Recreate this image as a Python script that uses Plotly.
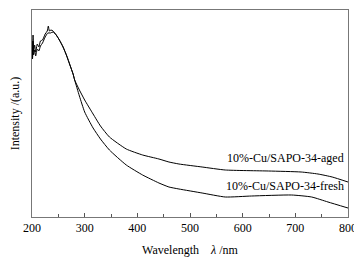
import plotly.graph_objects as go

wavelength_aged = [200, 201, 202, 203, 205, 207, 210, 213, 216, 220, 225, 229, 231, 233, 236, 240, 246, 252, 259, 266, 272, 278, 281, 290, 300, 316, 330, 347, 379, 410, 441, 460, 479, 523, 567, 649, 711, 743, 770, 800]
intensity_aged = [176, 160, 182, 166, 172, 165, 173, 170, 176, 177, 183, 186, 191, 186, 187, 186, 182, 177, 170, 161, 152, 143, 137, 127, 117, 103, 91, 80, 68, 62, 58, 55, 53, 50, 47, 46, 45, 43, 40, 35]

wavelength_fresh = [200, 201, 202, 203, 205, 207, 210, 213, 216, 220, 225, 230, 235, 240, 246, 252, 259, 266, 272, 278, 281, 290, 300, 316, 330, 347, 379, 410, 441, 460, 479, 523, 567, 617, 693, 731, 762, 800]
intensity_fresh = [170, 158, 176, 162, 167, 161, 168, 166, 171, 174, 180, 184, 184, 185, 182, 177, 170, 161, 152, 143, 137, 121, 105, 89, 78, 67, 52, 42, 34, 30, 28, 24, 20, 21, 22, 20, 15, 9]

label_aged = "10%-Cu/SAPO-34-aged"
label_fresh = "10%-Cu/SAPO-34-fresh"

FONT = "Liberation Serif, Times New Roman, serif"

fig = go.Figure()
fig.add_trace(go.Scatter(x=wavelength_aged, y=intensity_aged, mode="lines",
                         line=dict(color="black", width=1, shape="spline", smoothing=0.5), showlegend=False))
fig.add_trace(go.Scatter(x=wavelength_fresh, y=intensity_fresh, mode="lines",
                         line=dict(color="black", width=1, shape="spline", smoothing=0.5), showlegend=False))

fig.add_annotation(x=796, y=59, text=label_aged, showarrow=False, xanchor="right", yanchor="middle",
                   font=dict(family=FONT, size=12, color="black"))
fig.add_annotation(x=797, y=31, text=label_fresh, showarrow=False, xanchor="right", yanchor="middle",
                   font=dict(family=FONT, size=12, color="black"))

# page body has an 8px margin, so the figure is sized to fit the window from there
fig.update_layout(
    width=354, height=249,
    margin=dict(l=24, r=14, t=2, b=40, autoexpand=False),
    paper_bgcolor="white", plot_bgcolor="white",
    font=dict(family=FONT, size=12, color="black"),
    xaxis=dict(range=[200, 800], dtick=100, tick0=200, ticks="inside", ticklen=4, tickcolor="#555",
               showline=True, linecolor="#777", linewidth=1, mirror=True, showgrid=False, zeroline=False,
               automargin=False,
               minor=dict(dtick=50, ticks="inside", ticklen=3, tickcolor="#555"),
               tickfont=dict(family=FONT, size=12),
               title=dict(text="Wavelength    <i>λ</i> /nm", standoff=11, font=dict(family=FONT, size=12))),
    yaxis=dict(range=[0, 207], showticklabels=False, ticks="", showline=True, linecolor="#777",
               linewidth=1, mirror=True, showgrid=False, zeroline=False, automargin=False,
               title=dict(text="Intensity /(a.u.)", standoff=12, font=dict(family=FONT, size=12))),
)

fig.write_html("out.html")
